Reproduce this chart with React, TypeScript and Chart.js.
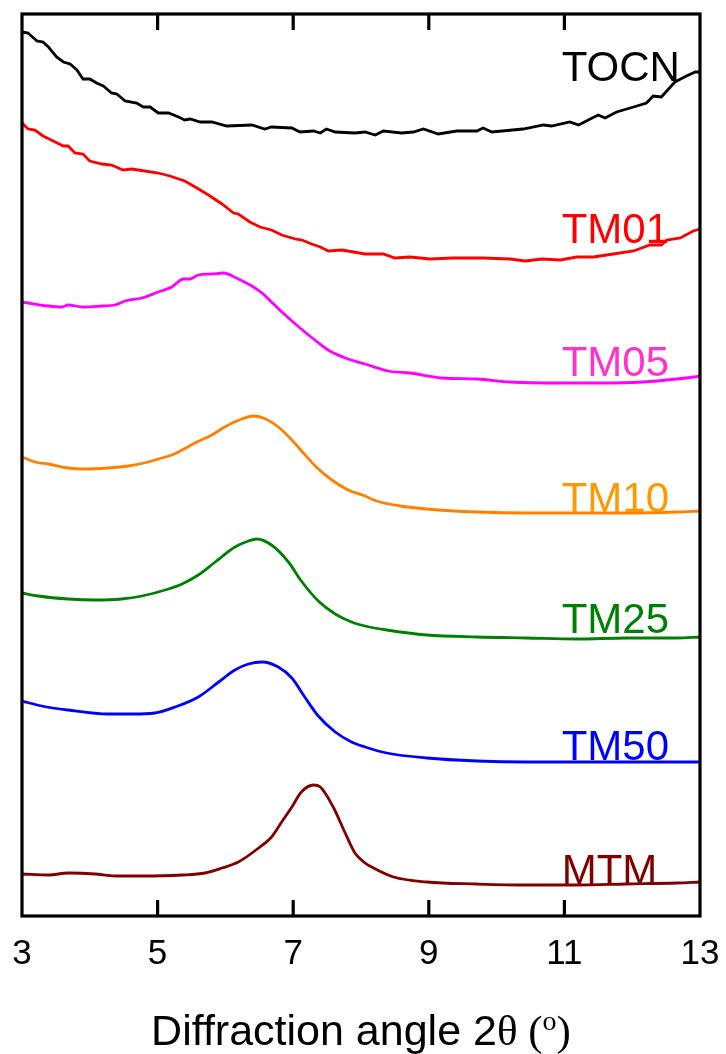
import React, { useEffect, useRef } from "react";
import { Chart, registerables } from "chart.js";

Chart.register(...registerables);

// ---- Data (x: diffraction angle 2θ, y: intensity, offset, arbitrary units) ----
const tocnX = [3.00,3.09,3.22,3.31,3.39,3.51,3.61,3.71,3.81,3.90,
  4.00,4.10,4.20,4.32,4.40,4.52,4.69,4.79,4.89,5.01,
  5.16,5.31,5.40,5.48,5.63,5.80,6.02,6.39,6.58,6.68,
  6.98,7.10,7.30,7.40,7.49,7.62,7.91,8.06,8.21,8.33,
  8.60,8.77,8.92,9.14,9.41,9.71,9.80,9.93,10.39,10.69,
  10.81,11.08,11.21,11.38,11.50,11.60,11.77,12.02,12.21,12.31,
  12.43,12.63,12.80,12.93,13.00];
const tocnY = [884,883,875,874,869,859,854,852,846,837,
  837,833,830,823,822,815,813,809,809,803,
  803,799,796,797,794,794,790,791,787,789,
  788,784,785,783,787,784,783,784,781,785,
  783,784,787,782,785,785,788,784,787,791,
  790,794,791,797,801,798,804,809,813,820,
  819,834,840,844,844];

const tm01X = [3.00,3.09,3.19,3.31,3.49,3.61,3.68,3.78,3.90,4.00,
  4.18,4.32,4.49,4.62,4.81,5.01,5.18,5.40,5.58,5.75,
  5.95,6.12,6.19,6.36,6.51,6.68,6.83,7.03,7.13,7.27,
  7.40,7.52,7.72,8.06,8.33,8.50,8.72,9.02,9.36,9.80,
  10.20,10.42,10.67,10.94,11.18,11.43,11.72,12.02,12.26,12.43,
  12.51,12.71,12.90,13.00];
const tm01Y = [793,787,786,780,774,770,770,763,762,755,
  752,751,746,747,745,743,740,735,728,721,
  712,703,702,694,689,686,681,677,676,672,
  669,665,666,662,662,658,659,657,658,658,
  657,655,657,656,659,659,662,665,671,671,
  676,678,685,687];

const tm05X = [3.00,3.09,3.39,3.59,3.68,3.90,4.18,4.37,4.52,4.77,
  5.01,5.21,5.38,5.48,5.60,5.80,5.97,6.19,6.39,6.54,
  6.71,6.85,7.10,7.32,7.54,7.81,8.06,8.40,8.72,9.21,
  9.71,10.20,10.94,11.53,12.16,12.66,12.90,13.00];
const tm05Y = [614,613,610,609,611,609,610,611,615,618,
  624,629,637,637,641,642,643,637,630,623,
  612,603,588,576,565,557,552,545,543,538,
  537,534,533,533,534,537,539,540];

const tm10X = [3.00,3.19,3.39,3.68,3.90,4.27,4.57,4.86,5.01,5.21,
  5.36,5.55,5.80,5.99,6.24,6.41,6.56,6.78,6.98,7.15,
  7.34,7.57,7.81,8.06,8.23,8.58,8.97,9.71,10.44,11.18,
  11.92,12.66,13.00];
const tm10Y = [459,454,452,448,447,448,450,454,457,461,
  466,473,481,489,497,500,498,489,476,463,
  449,436,426,420,415,410,407,404,403,403,
  403,404,405];

const tm25X = [3.00,3.24,3.68,4.08,4.47,4.77,5.16,5.36,5.60,5.85,
  6.14,6.34,6.46,6.68,6.93,7.12,7.37,7.62,7.86,8.06,
  8.38,8.97,9.71,10.44,11.18,11.92,12.66,13.00];
const tm25Y = [323,320,317,316,317,320,327,332,341,354,
  369,375,377,371,354,335,315,302,294,290,
  286,281,279,278,277,278,278,279];

const tm50X = [3.00,3.29,3.68,4.27,4.62,4.96,5.26,5.60,5.90,6.14,
  6.34,6.54,6.78,6.98,7.17,7.37,7.62,7.86,8.06,8.38,
  8.97,9.71,10.44,11.18,11.92,13.00];
const tm50Y = [215,210,206,202,202,203,209,219,234,246,
  252,254,249,238,219,200,184,174,169,163,
  158,155,154,154,154,154];

const mtmX = [3.00,3.39,3.68,4.08,4.37,4.77,5.36,5.70,5.95,6.19,
  6.49,6.68,6.83,6.98,7.12,7.30,7.40,7.59,7.76,7.91,
  8.06,8.13,8.48,8.97,9.71,10.44,11.18,11.92,12.66,13.00];
const mtmY = [42,41,43,42,40,40,41,43,48,54,
  68,79,94,109,124,131,129,109,84,63,
  53,50,39,34,32,31,31,32,33,34];

const seriesNames = ["TOCN", "TM01", "TM05", "TM10", "TM25", "TM50", "MTM"];
const xTicks = [3, 5, 7, 9, 11, 13];
const xTitle = "Diffraction angle 2θ (°)";

const SANS = "'Liberation Sans', Arial, sans-serif";
const SERIF = "'Liberation Serif', 'Times New Roman', serif";

export default function App() {
  const canvasRef = useRef<HTMLCanvasElement | null>(null);

  useEffect(() => {
    const canvas = canvasRef.current;
    if (!canvas) return;

    const xsList = [tocnX, tm01X, tm05X, tm10X, tm25X, tm50X, mtmX];
    const ysList = [tocnY, tm01Y, tm05Y, tm10Y, tm25Y, tm50Y, mtmY];
    const lineColors = ["#000000", "#ff0000", "#ff00ff", "#ff8000", "#008000", "#0000ff", "#800000"];
    const labelColors = ["#000000", "#ff0000", "#ff33cc", "#ff9900", "#008000", "#0000ff", "#800000"];
    const smooth = [false, false, true, true, true, true, true];
    // label anchor in data coords (x, y)
    const labelAnchor: [number, number][] = [
      [10.96, 835], [10.96, 673], [10.96, 540], [10.96, 404], [10.96, 283], [10.96, 156], [10.96, 32],
    ];

    const datasets = seriesNames.map((name, i) => ({
      label: name,
      data: xsList[i].map((x, j) => ({ x, y: ysList[i][j] })),
      borderColor: lineColors[i],
      backgroundColor: lineColors[i],
      borderWidth: 2.8,
      pointRadius: 0,
      fill: false,
      tension: smooth[i] ? 0.4 : 0,
      cubicInterpolationMode: smooth[i] ? ("monotone" as const) : ("default" as const),
    }));

    const framePlugin = {
      id: "frameAndLabels",
      afterDatasetsDraw(chart: any) {
        const { ctx, chartArea } = chart;
        const xs = chart.scales.x;
        const ys = chart.scales.y;
        ctx.save();
        // frame
        ctx.strokeStyle = "#000";
        ctx.lineWidth = 3.2;
        ctx.lineCap = "butt";
        ctx.strokeRect(chartArea.left, chartArea.top, chartArea.right - chartArea.left, chartArea.bottom - chartArea.top);
        // inward ticks top & bottom
        const tickLen = 16;
        xTicks.forEach((t) => {
          if (t === xTicks[0] || t === xTicks[xTicks.length - 1]) return;
          const px = xs.getPixelForValue(t);
          ctx.beginPath();
          ctx.moveTo(px, chartArea.bottom);
          ctx.lineTo(px, chartArea.bottom - tickLen);
          ctx.moveTo(px, chartArea.top);
          ctx.lineTo(px, chartArea.top + tickLen);
          ctx.stroke();
        });
        // series labels
        ctx.font = `42px ${SANS}`;
        ctx.textAlign = "left";
        ctx.textBaseline = "alphabetic";
        seriesNames.forEach((name, i) => {
          ctx.fillStyle = labelColors[i];
          ctx.fillText(name, xs.getPixelForValue(labelAnchor[i][0]), ys.getPixelForValue(labelAnchor[i][1]));
        });
        // axis title with mixed fonts
        const parts: { t: string; font: string; dy: number }[] = [
          { t: "Diffraction angle 2", font: `43px ${SANS}`, dy: 0 },
          { t: "θ (", font: `43px ${SERIF}`, dy: 0 },
          { t: "o", font: `28px ${SERIF}`, dy: -15 },
          { t: ")", font: `43px ${SERIF}`, dy: 0 },
        ];
        let total = 0;
        const widths = parts.map((p) => {
          ctx.font = p.font;
          const w = ctx.measureText(p.t).width;
          total += w;
          return w;
        });
        const cx = (chartArea.left + chartArea.right) / 2;
        let x = cx - total / 2;
        const baseY = 1045;
        ctx.fillStyle = "#000";
        parts.forEach((p, i) => {
          ctx.font = p.font;
          ctx.fillText(p.t, x, baseY + p.dy);
          x += widths[i];
        });
        ctx.restore();
      },
    };

    const chart = new Chart(canvas, {
      type: "line",
      data: { datasets },
      options: {
        animation: false,
        responsive: true,
        maintainAspectRatio: false,
        layout: { padding: { top: 14, left: 22, right: 26, bottom: 0 } },
        plugins: { legend: { display: false }, tooltip: { enabled: false } },
        scales: {
          x: {
            type: "linear",
            min: 3,
            max: 13,
            afterBuildTicks: (scale: any) => {
              scale.ticks = xTicks.map((v) => ({ value: v }));
            },
            afterFit: (scale: any) => {
              scale.height = 138;
              scale.paddingLeft = 0;
              scale.paddingRight = 0;
            },
            grid: { display: false, drawTicks: false },
            border: { display: false },
            ticks: {
              padding: 17,
              color: "#000",
              font: { size: 35, family: SANS },
              maxRotation: 0,
              autoSkip: false,
            },
            title: { display: false, text: xTitle },
          },
          y: {
            type: "linear",
            display: false,
            min: 0,
            max: 902,
          },
        },
      },
      plugins: [framePlugin],
    });

    return () => chart.destroy();
  }, []);

  return (
    <div style={{ position: "absolute", left: 0, top: 0, width: 726, height: 1054 }}>
      <canvas ref={canvasRef} />
    </div>
  );
}
